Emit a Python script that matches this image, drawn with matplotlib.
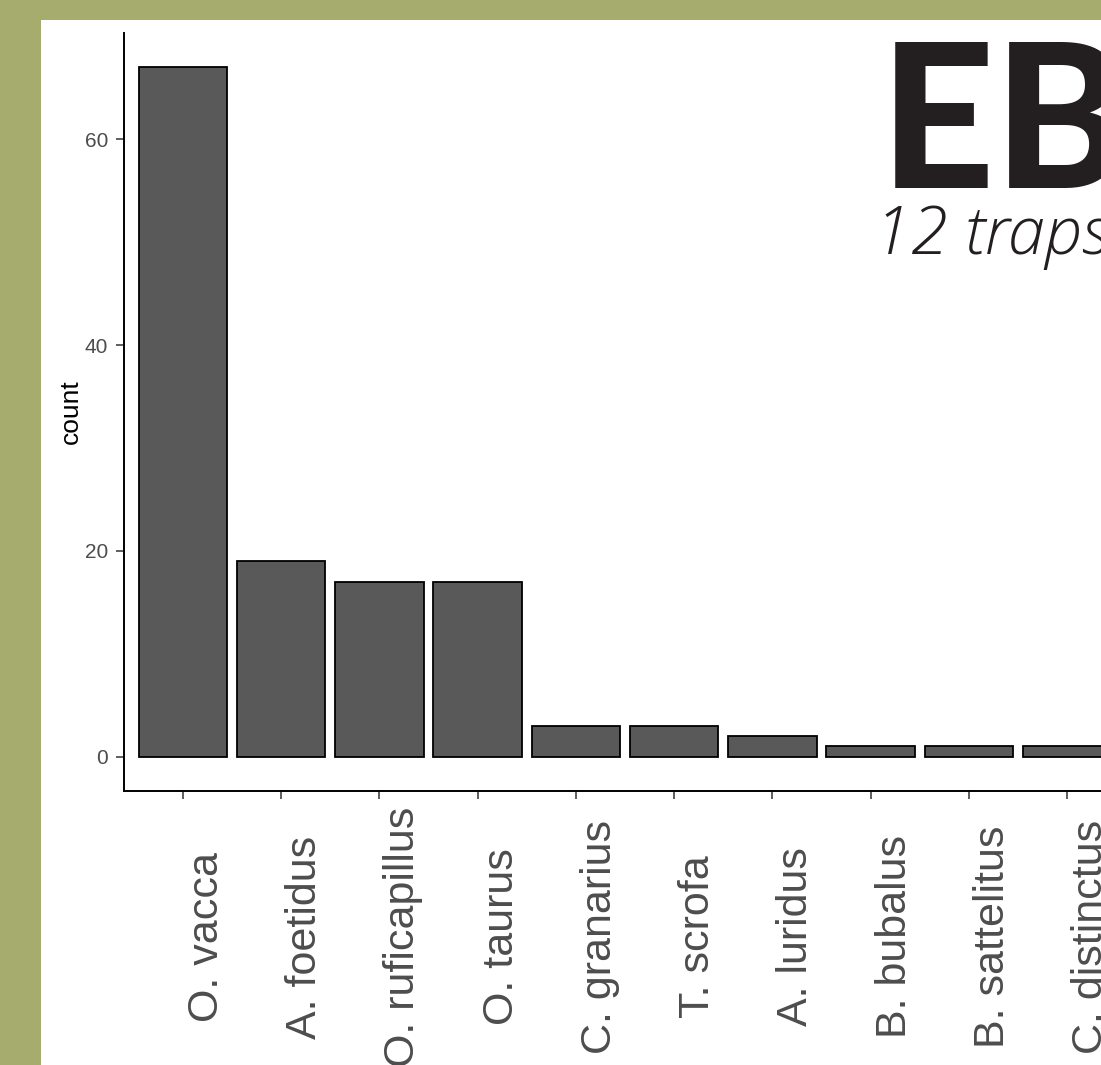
import matplotlib
matplotlib.use("Agg")
import matplotlib.pyplot as plt
from matplotlib.patches import Rectangle
from matplotlib.transforms import offset_copy

species = ["O. vacca", "A. foetidus", "O. ruficapillus", "O. taurus", "C. granarius",
           "T. scrofa", "A. luridus", "B. bubalus", "B. sattelitus", "C. distinctus"]
counts = [67, 19, 17, 17, 3, 3, 2, 1, 1, 1]
yticks = [0, 20, 40, 60]
title_text = "EB"
subtitle_text = "12 traps"

W, H = 1101, 1065
fig = plt.figure(figsize=(W / 100, H / 100), dpi=100)
fig.patch.set_facecolor("#A5AC6E")
fig.add_artist(Rectangle((41 / W, 0), 1, (H - 20) / H, transform=fig.transFigure,
                         facecolor="white", edgecolor="none", zorder=0))

left_px, right_px, top_px, bot_px = 124, 1126, 33, 791
ax = fig.add_axes([left_px / W, (H - bot_px) / H, (right_px - left_px) / W,
                   (bot_px - top_px) / H])
ax.set_facecolor("white")

x = list(range(1, len(species) + 1))
ax.bar(x, counts, width=0.9, color="#595959", edgecolor="black", linewidth=1.3, zorder=2)

ax.set_xlim(0.4, len(species) + 0.6)
ax.set_ylim(-3.35, 70.35)
ax.set_yticks(yticks)
ax.set_yticklabels([str(v) for v in yticks], fontsize=15, color="#4D4D4D",
                   family="Liberation Sans")
ax.set_xticks(x)
ax.set_xticklabels([""] * len(species))
ax.tick_params(axis="y", length=6, width=1.1, color="#333333", pad=5.5)
ax.tick_params(axis="x", length=5.5, width=1.1, color="#333333")
for s in ["top", "right"]:
    ax.spines[s].set_visible(False)
for s in ["left", "bottom"]:
    ax.spines[s].set_linewidth(1.4)
    ax.spines[s].set_color("black")

ax.set_ylabel("count", fontsize=19, family="Liberation Sans", color="black")
ax.yaxis.set_label_coords((82.5 - left_px) / (right_px - left_px), 0.5)

tr = offset_copy(ax.get_xaxis_transform(), fig=fig, x=35, y=0, units="dots")
yc = (bot_px - 937) / (bot_px - top_px)
for xi, lab in zip(x, species):
    ax.text(xi, yc, lab, transform=tr, rotation=90, rotation_mode="anchor",
            ha="center", va="baseline", fontsize=31, color="#4D4D4D",
            family="Liberation Sans", clip_on=False)

fig.text(880 / W, (H - 188) / H, title_text, fontsize=144, family="Lato",
         fontweight="black", color="#231F20", ha="left", va="baseline")
fig.text(874 / W, (H - 254) / H, subtitle_text, fontsize=48, family="Open Sans",
         fontweight="light", fontstyle="italic", color="#231F20", ha="left", va="baseline")

fig.savefig("out.png", dpi=100, facecolor=fig.get_facecolor())
